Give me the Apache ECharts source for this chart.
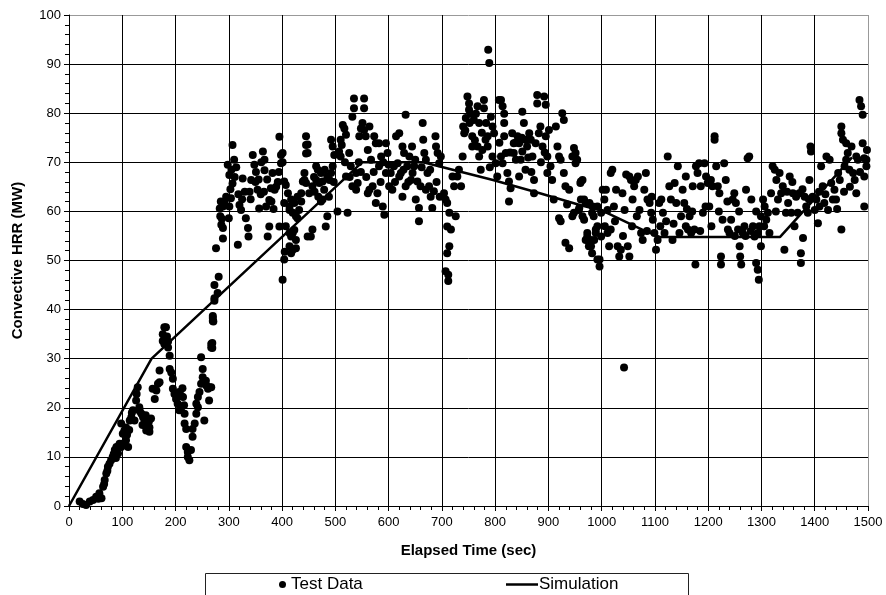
<!DOCTYPE html>
<html>
<head>
<meta charset="utf-8">
<script src="https://cdn.jsdelivr.net/npm/echarts@6/dist/echarts.min.js"></script>
<style>
  html, body { margin: 0; padding: 0; background: #fff; }
  #chart { width: 886px; height: 595px; }
</style>
</head>
<body>
<div id="chart"></div>
<script>
// test data, [time (sec), convective HRR (MW)]
const test0to300 = [
  [20,0.9],[26,0.4],[32,0.2],[39,0.9],[45,1.2],[51,1.9],[55,1.5],[57,2.6],[61,1.6],[64,3.9],
  [66,4.5],[67,5.3],[70,6.6],[72,7.2],[73,8],[76,8.6],[79,9.3],[82,10],[84,10.6],[86,11.4],
  [88,9.8],[89,12],[92,10.7],[94,12.3],[95,12.7],[98,12],[98,16.8],[101,14.7],[103,12.8],[104,15.4],
  [107,13.4],[107,16],[109,14.5],[111,12],[113,15.5],[114,17.4],[117,18.1],[118,19],[120,19.5],[123,17.4],
  [126,21.5],[127,22.8],[129,24.2],[132,20.1],[133,19.3],[136,18.8],[138,16.5],[139,18.1],[142,17.4],[144,18.5],
  [145,15.4],[148,16.8],[150,17.2],[151,16],[151,15.1],[154,17.8],[157,23.9],[161,21.8],[164,23.5],[167,24.9],
  [170,25.2],[170,27.6],[176,35],[176,33.6],[179,36.4],[179,33],[182,36.4],[184,34.5],[186,32.3],[186,33.5],
  [189,30.6],[189,27.9],[192,27.2],[195,25.9],[195,23.9],[198,22.8],[201,21.8],[204,20.8],[207,23.2],[207,19.5],
  [210,22.5],[211,20.1],[213,24],[214,22.2],[216,20.5],[217,18.8],[217,16.8],[220,15.7],[220,12],[223,11],
  [223,10],[226,9.3],[229,11.4],[232,14.1],[232,15.7],[236,16.8],[239,18.8],[239,20.8],[242,20.1],[242,22.2],
  [245,23.2],[248,24.9],[248,30.3],[251,27.9],[251,26.2],[254,17.4],[257,25.5],[258,24.5],[261,23.9],[263,21.5],
  [264,24.2],[267,24.2],[267,32.3],[267,33],[269,33.2],[269,32.2],[270,37.7],[270,38.7],[270,38.3],[271,37.6],
  [273,41.8],[273,42.3],[273,45],[276,52.5],[279,43.4],[281,46.7],[283,60.6],[284,59],[285,62],[286,57.3],
  [287,58.5],[289,54.5],[289,56.6],[289,61],[292,62],[295,63],[298,69.5]
]
const test300to600 = [
  [300,58.6],[301,61],[301,67.4],[303,64.5],[304,62.7],[305,68.5],[307,73.5],[307,65.7],[310,70.5],[311,67],
  [314,69],[317,53.2],[318,63.5],[320,61.3],[323,60.3],[325,62.5],[326,66.7],[330,64],[332,58.6],[336,56.6],
  [337,54.9],[339,64],[341,62.5],[342,66.4],[345,71.5],[348,69.5],[350,66],[351,68],[354,64.4],[356,66.5],
  [357,60.6],[360,63.5],[361,70],[364,72.2],[366,64],[367,70.5],[367,68.4],[370,61],[372,66.5],[373,54.9],
  [376,56.9],[376,62.3],[379,64.7],[380,62],[382,67.8],[384,60.5],[386,64.4],[389,65],[392,66],[394,68],
  [395,75.2],[395,56.9],[398,71.5],[398,69.8],[401,71.9],[401,70],[401,46.1],[404,66.1],[404,61.7],[404,50.2],
  [405,51.8],[407,65.4],[407,57],[411,63.7],[414,61],[414,60.3],[414,55.6],[414,52.9],[417,62.4],[417,54.9],
  [417,51.5],[420,59.7],[420,55.6],[420,52.2],[423,61.7],[423,56.2],[426,59],[426,54.2],[426,52.5],[429,63],
  [429,58.6],[432,60.3],[436,63.7],[436,62],[439,66.1],[442,67.8],[442,66.4],[445,75.3],[445,73.5],[445,71.8],
  [445,65.8],[448,73.6],[448,71.9],[448,54.9],[451,63.7],[454,54.9],[457,65.1],[457,56.3],[460,67],[461,64],
  [464,69.2],[464,66.4],[467,68.5],[468,63],[470,65.8],[473,67.8],[473,62],[476,66.1],[476,62.4],[479,64.4],
  [480,68.5],[482,56.9],[485,67.1],[485,59],[488,63],[489,66.4],[492,67.8],[492,74.6],[495,69.2],[495,73.2],
  [497,66],[498,71.5],[504,60],[507,72.2],[510,74.6],[510,71.2],[512,73.5],[514,77.6],[517,76.9],[518,70],
  [520,75.6],[520,67.1],[523,59.7],[526,71.9],[527,67],[529,69.2],[532,79.3],[532,65.1],[535,83],[535,81],
  [539,67.8],[539,64.4],[542,65.8],[544,70],[545,75.3],[548,76.9],[548,68],[551,78],[554,83],[554,81],
  [554,76.6],[557,75.3],[558,67],[561,72.5],[561,63.7],[564,77.3],[564,64.4],[567,70.5],[570,65.1],[572,68],
  [573,75.3],[576,73.9],[576,61.7],[579,63.7],[582,69.2],[582,73.9],[585,66],[586,71.2],[589,61],[590,70],
  [592,59.3],[595,73.9],[595,67.8],[598,71.9],[600,69.5]
]
const test600to900 = [
  [601,65.1],[604,67.8],[607,64.4],[610,69.2],[612,66],[614,75.3],[617,69.8],[620,75.9],[620,67.1],[623,67.8],
  [626,73.2],[626,63],[628,68.5],[629,71.9],[632,79.7],[632,65.1],[635,69.2],[637,66],[639,71.2],[642,66.4],
  [644,73.2],[645,67.8],[648,69.2],[650,70.5],[651,62.4],[654,66.1],[657,60.7],[657,58],[660,65.1],[662,69],
  [664,78],[665,74.6],[667,71.9],[670,70.5],[670,64.4],[673,67.8],[676,65.1],[678,68.5],[679,63],[682,60.7],
  [685,64.1],[688,75.3],[689,73.2],[690,66],[692,71.9],[695,69.8],[696,63],[698,71.2],[704,63.7],[707,62.4],
  [707,47.8],[710,61.7],[710,56.9],[710,51.5],[712,47.1],[712,45.8],[714,59.7],[714,52.9],[717,56.3],[720,67.1],
  [723,65.1],[726,59],[729,67.1],[732,68.5],[736,65.1],[739,71.2],[740,77.3],[742,75.9],[744,76.5],[745,79],
  [748,83.4],[751,82],[751,80.7],[752,78],[754,79.9],[757,75.3],[757,73.2],[760,78.6],[762,74.5],[764,79.9],
  [767,81.4],[767,73.2],[770,78],[770,71.2],[773,68.5],[775,76],[776,72.5],[779,82.7],[779,81],[782,74.6],
  [783,78],[786,75.3],[786,73.2],[787,92.9],[789,90.2],[790,69],[792,79.3],[795,77.3],[795,71.2],[798,75.9],
  [801,69.8],[804,67.1],[807,82.7],[808,74],[811,82.7],[811,71.2],[814,81.4],[814,69.8],[817,79.9],[817,78],
  [817,75.3],[820,71.9],[823,67.8],[826,66.1],[826,62],[828,72],[829,64.7],[832,75.9],[835,73.9],[835,71.9],
  [838,74],[839,70.5],[842,75.3],[845,73.9],[845,67.1],[848,70.5],[850,75],[851,80.3],[851,72.2],[854,78],
  [857,74.6],[857,68.5],[860,73.2],[862,71],[864,75.9],[867,74.6],[868,68],[870,71.2],[873,66.4],[873,63.7],
  [876,73.9],[879,83.7],[879,82],[882,75.9],[885,77.3],[886,70],[889,73.2],[892,83.4],[893,72],[895,81.7],
  [895,75.3],[898,71.2],[898,67.8]
]
const test900to1200 = [
  [901,76.6],[904,69.2],[907,66.4],[910,62.4],[914,77.3],[917,73.2],[920,71.2],[920,58.6],[923,70.5],[923,58],
  [926,80],[929,78.6],[929,67.8],[932,65.1],[932,53.6],[935,61.4],[939,64.4],[939,52.5],[945,71.2],[945,59],
  [948,72.9],[948,59.7],[951,71.9],[951,69.8],[954,70.5],[957,60.3],[958,60.7],[960,65.8],[961,66.1],[961,62.4],
  [964,66.4],[964,59],[967,62.4],[967,58.3],[970,61.7],[970,54.2],[973,54.9],[973,55.6],[976,52.9],[977,61.7],
  [979,54.2],[980,52.9],[982,51.5],[982,59.7],[983,61],[985,59],[986,54.2],[989,56.3],[989,55.6],[992,61],
  [992,50.2],[992,57],[996,50.2],[996,48.8],[999,59.7],[999,54.9],[1002,64.4],[1005,62.4],[1006,57],[1008,64.4],
  [1011,60.3],[1011,55.6],[1014,52.9],[1017,56.3],[1017,67.8],[1020,68.5],[1023,61],[1025,58],[1027,64.4],[1030,52.9],
  [1033,50.8],[1036,52.2],[1039,63.7],[1040,55],[1042,28.2],[1043,60.3],[1046,67.5],[1049,52.9],[1052,50.8],[1052,67.1],
  [1055,66.4],[1057,57],[1058,62.4],[1061,65.1],[1064,66.4],[1066,59],[1068,67.1],[1071,60.3],[1074,55.6],[1077,54.2],
  [1080,64.4],[1083,67.8],[1085,56],[1086,62.4],[1090,61.7],[1093,59.7],[1094,63],[1096,58.3],[1099,55.6],[1102,52.2],
  [1105,54.2],[1108,61.7],[1110,57],[1112,62.4],[1115,59.7],[1118,55.6],[1121,58],[1124,71.2],[1127,65.1],[1130,62.4],
  [1133,54.2],[1135,57.5],[1137,65.8],[1140,61.7],[1143,69.2],[1146,55.6],[1149,59],[1152,64.4],[1155,61.7],[1158,67.1],
  [1158,57],[1160,60.5],[1162,56.3],[1165,59],[1168,55.6],[1170,60],[1171,65.1],[1174,56.3],[1176,49.2],[1177,69.2],
  [1180,67.8],[1183,69.8],[1185,56],[1186,65.1],[1190,59.7],[1193,69.8],[1195,61],[1196,67.1],[1199,65.8]
]
const test1200to1500 = [
  [1202,61],[1205,66.4],[1206,57],[1208,65.1],[1212,75.3],[1212,74.6],[1215,69.2],[1218,65.1],[1220,60],[1221,63.7],
  [1224,50.8],[1224,49.2],[1227,58.3],[1230,69.8],[1233,66.4],[1236,62],[1237,56.3],[1240,55.6],[1243,58.3],[1246,62.4],
  [1249,63.7],[1250,55],[1252,61.7],[1256,56.3],[1258,60],[1259,52.9],[1260,50.8],[1262,49.2],[1265,55.6],[1268,57],
  [1270,55],[1271,64.4],[1274,70.8],[1277,71.2],[1280,56],[1281,62.4],[1284,57],[1287,54.9],[1290,49.5],[1290,60],
  [1293,48.1],[1293,55.6],[1295,46.1],[1296,57],[1299,52.9],[1299,59],[1303,62.4],[1305,57],[1306,61],[1309,58.3],
  [1312,59.7],[1315,55.6],[1318,63.7],[1321,69.2],[1325,68.5],[1327,60],[1328,66.4],[1331,62.4],[1334,67.8],[1337,63.7],
  [1340,65.1],[1343,52.2],[1346,59.7],[1348,64],[1350,61.7],[1353,67.1],[1356,59.7],[1358,66],[1359,63.7],[1362,57],
  [1365,63],[1368,59.7],[1371,63.7],[1374,51.5],[1374,49.5],[1377,64.5],[1378,54.6],[1381,63],[1384,61],[1387,59.7],
  [1389,62.5],[1390,66.4],[1392,73.2],[1393,72.2],[1396,63],[1400,60.3],[1403,62.4],[1406,57.6],[1408,64],[1409,61],
  [1412,69.2],[1415,65.1],[1418,61.7],[1420,63.5],[1422,71.2],[1425,60.3],[1428,70.5],[1431,65.8],[1434,62.4],[1437,64.4],
  [1440,62.4],[1442,60.5],[1444,67.8],[1447,66.4],[1450,77.3],[1450,75.9],[1450,56.3],[1453,74.6],[1455,64],[1456,69.2],
  [1459,73.9],[1459,70.5],[1462,71.9],[1465,68.5],[1466,65],[1469,73.2],[1472,67.8],[1475,66.4],[1478,71.2],[1478,63.7],
  [1481,70.5],[1484,82.7],[1485,68],[1487,81.4],[1490,79.7],[1490,73.9],[1493,70.8],[1493,67.1],[1493,61],[1497,70.5],
  [1497,69.2],[1498,72.5]
]

// simulation curve breakpoints
const simTime = [0, 155, 550, 665, 796, 884, 959, 1000, 1078, 1109, 1335, 1447, 1470]
const simHrr = [0, 30, 70, 70, 66.4, 63.7, 61.3, 60.2, 56.2, 54.8, 54.8, 68.2, 71]

const xTicks = [0, 1500, 100]
const yTicks = [0, 100, 10]

const testData = [].concat(test0to300, test300to600, test600to900, test900to1200, test1200to1500)
const simData = simTime.map((t, i) => [t, simHrr[i]])

const font = 'Liberation Sans, Arial, sans-serif'

function gridColors(count) {
  // top / right borders of the plot area are gray
  const colors = []
  for (let i = 0; i < count; i++) colors.push('#000')
  colors[count - 1] = '#999'
  return colors
}

const chart = echarts.init(document.getElementById('chart'))
chart.setOption({
  animation: false,
  backgroundColor: '#fff',
  grid: {
    left: 69,
    right: 18,
    top: 15,
    bottom: 89,
  },
  xAxis: {
    type: 'value',
    min: xTicks[0],
    max: xTicks[1],
    interval: xTicks[2],
    name: 'Elapsed Time (sec)',
    nameLocation: 'middle',
    nameGap: 37,
    nameTextStyle: { color: '#000', fontSize: 15, fontWeight: 'bold', fontFamily: font },
    axisLine: { lineStyle: { color: '#000', width: 1 } },
    axisTick: { length: 5, lineStyle: { color: '#000' } },
    minorTick: { show: true, splitNumber: 5, length: 4, lineStyle: { color: '#000' } },
    axisLabel: { color: '#000', fontSize: 13, margin: 10, fontFamily: font, formatter: v => String(v) },
    splitLine: { show: true, lineStyle: { color: gridColors(16), width: 1 } },
  },
  yAxis: {
    type: 'value',
    min: yTicks[0],
    max: yTicks[1],
    interval: yTicks[2],
    name: 'Convective HRR (MW)',
    nameLocation: 'middle',
    nameGap: 44,
    nameTextStyle: { color: '#000', fontSize: 15, fontWeight: 'bold', fontFamily: font },
    axisLine: { show: true, lineStyle: { color: '#000', width: 1 } },
    axisTick: { show: true, length: 5, lineStyle: { color: '#000' } },
    minorTick: { show: true, splitNumber: 5, length: 4, lineStyle: { color: '#000' } },
    axisLabel: { color: '#000', fontSize: 13, margin: 8, fontFamily: font },
    splitLine: { show: true, lineStyle: { color: gridColors(11), width: 1 } },
  },
  legend: [
    {
      data: [{ name: 'Test Data', icon: 'circle' }],
      left: 279,
      top: 576,
      padding: 0,
      itemWidth: 7,
      itemHeight: 7,
      textStyle: { color: '#000', fontSize: 17, fontFamily: font },
    },
    {
      data: [{ name: 'Simulation', icon: 'rect' }],
      left: 506,
      top: 576,
      padding: 0,
      itemWidth: 32,
      itemHeight: 2.5,
      itemGap: 0,
      textStyle: { color: '#000', fontSize: 17, fontFamily: font, padding: [0, 0, 0, -4] },
    },
  ],
  graphic: [
    {
      type: 'rect',
      left: 203,
      top: 571,
      shape: { width: 483, height: 40 },
      style: { fill: 'none', stroke: '#222', lineWidth: 1 },
      silent: true,
    },
  ],
  series: [
    {
      name: 'Test Data',
      type: 'scatter',
      data: testData,
      symbol: 'circle',
      symbolSize: 8,
      itemStyle: { color: '#000', opacity: 1 },
      z: 3,
    },
    {
      name: 'Simulation',
      type: 'line',
      data: simData,
      symbol: 'none',
      lineStyle: { color: '#000', width: 2.5 },
      itemStyle: { color: '#000' },
      z: 4,
    },
  ],
})
</script>
</body>
</html>
